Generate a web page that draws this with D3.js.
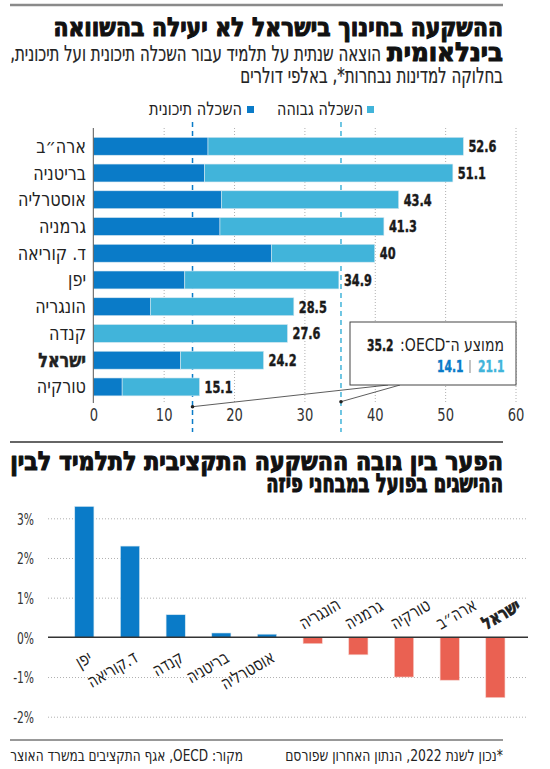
<!DOCTYPE html>
<html>
<head>
<meta charset="utf-8">
<script src="https://cdn.jsdelivr.net/npm/d3@7"></script>
<style>
  body { margin: 0; background: #fff; }
  text { font-family: 'DejaVu Sans Condensed', 'DejaVu Sans', sans-serif; }
</style>
</head>
<body>
<svg id="chart" width="550" height="769"></svg>
<script>
// ---- data: spending per student, thousand USD ----
var countries = ["ארה״ב", "בריטניה", "אוסטרליה", "גרמניה", "ד. קוריאה", "יפן", "הונגריה", "קנדה", "ישראל", "טורקיה"];
var secondary = [16.3, 15.8, 18.2, 18.0, 25.3, 13.0, 8.1, 0, 12.4, 4.1];
var higher    = [36.3, 35.3, 25.2, 23.3, 14.7, 21.9, 20.4, 27.6, 11.8, 11.0];
var totalLabels = ["52.6", "51.1", "43.4", "41.3", "40", "34.9", "28.5", "27.6", "24.2", "15.1"];
var xTicks = [0, 10, 20, 30, 40, 50, 60];
var oecdSecondary = 14.1, oecdHigher = 21.1, oecdTotal = 35.2;

// ---- data: gap between spending and PISA results, % ----
var gapCountries = ["יפן", "ד.קוריאה", "קנדה", "בריטניה", "אוסטרליה", "הונגריה", "גרמניה", "טורקיה", "ארה״ב", "ישראל"];
var gapValues = [3.3, 2.3, 0.57, 0.11, 0.08, -0.16, -0.44, -1.0, -1.08, -1.52];
var gapTicks = [-2, -1, 0, 1, 2, 3];

var darkBlue = "#0a7bc8", lightBlue = "#41b4da", red = "#ea6152";
var ink = "#1a1a1a";

var svg = d3.select("#chart");

// width of a string at a given size / weight (for squeezing text to the narrow look)
var probe = svg.append("text").attr("x", -999).attr("y", -999);
function measure(str, size, bold) {
  probe.attr("font-size", size).attr("font-weight", bold ? "bold" : "normal").text(str);
  return probe.node().getComputedTextLength();
}

// right-to-left text, squeezed horizontally to a target width or by factor k
function rtl(g, str, x, y, size, opts) {
  opts = opts || {};
  var w = measure(str, size, opts.bold);
  var k = opts.len ? opts.len / w : (opts.k || 1);
  var t = g.append("text")
    .attr("direction", "rtl")
    .attr("text-anchor", opts.anchor || "start")
    .attr("font-size", size)
    .attr("font-weight", opts.bold ? "bold" : "normal")
    .attr("fill", opts.fill || ink)
    .attr("transform", "translate(" + x + "," + y + ") scale(" + k + ",1)")
    .text(str);
  if (opts.heavy) t.attr("stroke", opts.fill || ink).attr("stroke-width", opts.heavy).attr("stroke-linejoin", "round");
  return t;
}

// ---- header ----
svg.append("line").attr("x1", 10).attr("x2", 503).attr("y1", 5).attr("y2", 5)
  .attr("stroke", "#8a8a8a").attr("stroke-width", 2.5);

rtl(svg, "ההשקעה בחינוך בישראל לא יעילה בהשוואה", 503, 36, 26, {bold: true, len: 450, fill: "#111", heavy: 1.1});
rtl(svg, "בינלאומית", 503, 61, 26, {bold: true, len: 116, fill: "#111", heavy: 1.1});
rtl(svg, "הוצאה שנתית על תלמיד עבור השכלה תיכונית ועל תיכונית,", 381, 61, 22, {len: 371, fill: "#222", heavy: 0.2});
rtl(svg, "בחלוקה למדינות נבחרות*, באלפי דולרים", 503, 83, 22, {len: 263, fill: "#222", heavy: 0.2});

// legend
svg.append("rect").attr("x", 367).attr("y", 106).attr("width", 7).attr("height", 7).attr("fill", lightBlue);
rtl(svg, "השכלה גבוהה", 363, 115, 18.5, {len: 86, fill: "#222"});
svg.append("rect").attr("x", 247).attr("y", 106).attr("width", 7).attr("height", 7).attr("fill", darkBlue);
rtl(svg, "השכלה תיכונית", 242, 115, 18.5, {len: 93, fill: "#222"});

// ---- chart 1: stacked horizontal bars ----
var x = d3.scaleLinear().domain([0, 60]).range([93.3, 515.5]);
var y = d3.scaleBand().domain(countries).range([132.9, 400.3]).paddingInner(0.33).paddingOuter(0.165);

var rows = countries.map(function(c, i) { return {country: c, secondary: secondary[i], higher: higher[i]}; });
var stacked = d3.stack().keys(["secondary", "higher"])(rows);

var c1 = svg.append("g");

// grid
c1.append("g")
  .attr("transform", "translate(0,402)")
  .call(d3.axisBottom(x).tickValues(xTicks.slice(1)).tickSize(-276).tickFormat(""))
  .call(function(g) {
    g.select(".domain").remove();
    g.selectAll("line").attr("stroke", "#b0b0b0").attr("stroke-dasharray", "1,2");
  });

// OECD average dashed lines
c1.append("line").attr("x1", x(oecdSecondary)).attr("x2", x(oecdSecondary))
  .attr("y1", 122).attr("y2", 432).attr("stroke", darkBlue).attr("stroke-width", 1.5).attr("stroke-dasharray", "5,4");
c1.append("line").attr("x1", x(oecdTotal)).attr("x2", x(oecdTotal))
  .attr("y1", 122).attr("y2", 432).attr("stroke", lightBlue).attr("stroke-width", 1.5).attr("stroke-dasharray", "5,4");

c1.selectAll("g.layer")
  .data(stacked)
  .join("g")
  .attr("class", "layer")
  .attr("fill", function(d, i) { return i === 0 ? darkBlue : lightBlue; })
  .selectAll("rect")
  .data(function(d) { return d; })
  .join("rect")
  .attr("x", function(d) { return x(d[0]); })
  .attr("y", function(d) { return y(d.data.country); })
  .attr("width", function(d) { return x(d[1]) - x(d[0]); })
  .attr("height", y.bandwidth())
  .attr("stroke", "#d8e8f0").attr("stroke-width", 0.6);

// value labels (squeezed so "52.6" is ~28px wide)
var kVal = 28 / measure("52.6", 16, true);
c1.selectAll("text.val")
  .data(rows)
  .join("text")
  .attr("class", "val")
  .attr("transform", function(d) {
    return "translate(" + (x(d.secondary + d.higher) + 5) + "," + (y(d.country) + y.bandwidth() / 2 + 6) + ") scale(" + kVal + ",1)";
  })
  .attr("font-size", 16).attr("font-weight", "bold").attr("fill", ink)
  .attr("stroke", ink).attr("stroke-width", 0.4)
  .text(function(d, i) { return totalLabels[i]; });

// country labels (squeezed so "אוסטרליה" is ~68px wide)
var kCty = 68 / measure("אוסטרליה", 19.5, false);
c1.selectAll("text.cty")
  .data(countries)
  .join("text")
  .attr("class", "cty")
  .attr("transform", function(d) {
    return "translate(86," + (y(d) + y.bandwidth() / 2 + 6.5) + ") scale(" + kCty + ",1)";
  })
  .attr("direction", "rtl").attr("text-anchor", "start")
  .attr("font-size", 19.5)
  .attr("font-weight", function(d) { return d === "ישראל" ? "bold" : "normal"; })
  .attr("stroke", function(d) { return d === "ישראל" ? ink : "none"; }).attr("stroke-width", 0.5)
  .attr("fill", "#222")
  .text(function(d) { return d; });

// axis
c1.append("line").attr("x1", x(0)).attr("x2", x(0)).attr("y1", 128).attr("y2", 403)
  .attr("stroke", "#555").attr("stroke-width", 1);
var kTick = 16.7 / measure("20", 17, false);
c1.append("g")
  .attr("transform", "translate(0,421)")
  .call(d3.axisBottom(x).tickValues(xTicks).tickSize(0))
  .call(function(g) {
    g.select(".domain").remove();
    g.selectAll("text").attr("y", 0).attr("dy", 0)
      .attr("font-size", 17).attr("fill", "#333")
      .attr("font-family", "'DejaVu Sans Condensed', sans-serif")
      .attr("transform", "scale(" + kTick + ",1)");
  });

// callout
c1.append("line").attr("x1", 388).attr("y1", 385).attr("x2", x(oecdSecondary)).attr("y2", 406.7)
  .attr("stroke", "#333").attr("stroke-width", 0.8);
c1.append("line").attr("x1", 400).attr("y1", 385).attr("x2", x(oecdTotal)).attr("y2", 401.7)
  .attr("stroke", "#333").attr("stroke-width", 0.8);
c1.append("circle").attr("cx", x(oecdSecondary)).attr("cy", 406.7).attr("r", 1.8).attr("fill", "#222");
c1.append("circle").attr("cx", x(oecdTotal)).attr("cy", 401.7).attr("r", 1.8).attr("fill", "#222");
c1.append("rect").attr("x", 350).attr("y", 322).attr("width", 166).attr("height", 63)
  .attr("fill", "#fff").attr("stroke", "#444").attr("stroke-width", 1);

rtl(c1, "ממוצע ה־OECD:", 504, 351, 18, {len: 104, fill: "#222"});
function num(str, xr, yb, color) {
  var k = 26.5 / measure("35.2", 16, true);
  c1.append("text").attr("text-anchor", "end")
    .attr("transform", "translate(" + xr + "," + yb + ") scale(" + k + ",1)")
    .attr("font-size", 16).attr("font-weight", "bold")
    .attr("fill", color).attr("stroke", color).attr("stroke-width", 0.4)
    .text(str);
}
num(oecdTotal, 393.5, 351, ink);
num(oecdHigher, 504.5, 372, lightBlue);
num(oecdSecondary, 463.5, 372, darkBlue);
c1.append("line").attr("x1", 470).attr("x2", 470).attr("y1", 360).attr("y2", 373)
  .attr("stroke", "#888").attr("stroke-width", 1);

// ---- section 2 ----
svg.append("line").attr("x1", 10).attr("x2", 503).attr("y1", 442).attr("y2", 442)
  .attr("stroke", "#333").attr("stroke-width", 1.5);
rtl(svg, "הפער בין גובה ההשקעה התקציבית לתלמיד לבין", 503, 470, 26, {bold: true, len: 493, fill: "#111", heavy: 1.1});
rtl(svg, "ההישגים בפועל במבחני פיזה", 503, 492, 26, {bold: true, len: 237, fill: "#111", heavy: 1.1});

var xb = d3.scaleBand().domain(gapCountries).range([61.5, 518.2]).paddingInner(0.58).paddingOuter(0.29);
var yb = d3.scaleLinear().domain([-2, 3]).range([716.7, 518.3]);

var c2 = svg.append("g");
c2.append("g")
  .attr("transform", "translate(48,0)")
  .call(d3.axisLeft(yb).tickValues(gapTicks.filter(function(t) { return t !== 0; })).tickSize(-480).tickFormat(""))
  .call(function(g) {
    g.select(".domain").remove();
    g.selectAll("line").attr("stroke", "#b0b0b0").attr("stroke-dasharray", "1,2");
  });
var kPct = 17 / measure("3%", 16, false);
c2.append("g")
  .attr("transform", "translate(34,0)")
  .call(d3.axisLeft(yb).tickValues(gapTicks).tickSize(0)
    .tickFormat(function(d) { return d + "%"; }))
  .call(function(g) {
    g.select(".domain").remove();
    g.selectAll("text").attr("x", 0).attr("dy", "0.36em")
      .attr("font-size", 16).attr("fill", "#333")
      .attr("font-family", "'DejaVu Sans Condensed', sans-serif")
      .attr("transform", "scale(" + kPct + ",1)");
  });

c2.selectAll("rect")
  .data(gapValues)
  .join("rect")
  .attr("x", function(d, i) { return xb(gapCountries[i]); })
  .attr("y", function(d) { return yb(Math.max(0, d)); })
  .attr("width", xb.bandwidth())
  .attr("height", function(d) { return Math.abs(yb(d) - yb(0)); })
  .attr("fill", function(d) { return d >= 0 ? darkBlue : red; })
  .attr("stroke", function(d) { return d >= 0 ? "#d8e8f0" : "#f5d0cb"; }).attr("stroke-width", 0.6);

c2.append("line").attr("x1", 48).attr("x2", 528).attr("y1", yb(0)).attr("y2", yb(0))
  .attr("stroke", "#333").attr("stroke-width", 1.5);

var kGap = 44 / measure("הונגריה", 18.5, false);
c2.selectAll("text.gl")
  .data(gapCountries)
  .join("text")
  .attr("class", "gl")
  .attr("direction", "rtl")
  .attr("text-anchor", function(d, i) { return gapValues[i] >= 0 ? "start" : "end"; })
  .attr("transform", function(d, i) {
    var cx = xb(d) + xb.bandwidth() / 2;
    var pos = gapValues[i] >= 0 ? [cx + 9, 661] : [cx - 9, 630];
    return "translate(" + pos[0] + "," + pos[1] + ") rotate(-30) scale(" + kGap + ",1)";
  })
  .attr("font-size", 18.5)
  .attr("font-weight", function(d) { return d === "ישראל" ? "bold" : "normal"; })
  .attr("stroke", function(d) { return d === "ישראל" ? ink : "none"; }).attr("stroke-width", 0.7)
  .attr("fill", "#222")
  .text(function(d) { return d; });

// ---- footer ----
svg.append("line").attr("x1", 10).attr("x2", 503).attr("y1", 740).attr("y2", 740)
  .attr("stroke", "#333").attr("stroke-width", 1);
rtl(svg, "*נכון לשנת 2022, הנתון האחרון שפורסם", 503, 761, 16, {len: 218, fill: "#222"});
rtl(svg, "מקור: OECD, אגף התקציבים במשרד האוצר", 243, 761, 16, {len: 233, fill: "#222"});

probe.remove();
</script>
</body>
</html>
